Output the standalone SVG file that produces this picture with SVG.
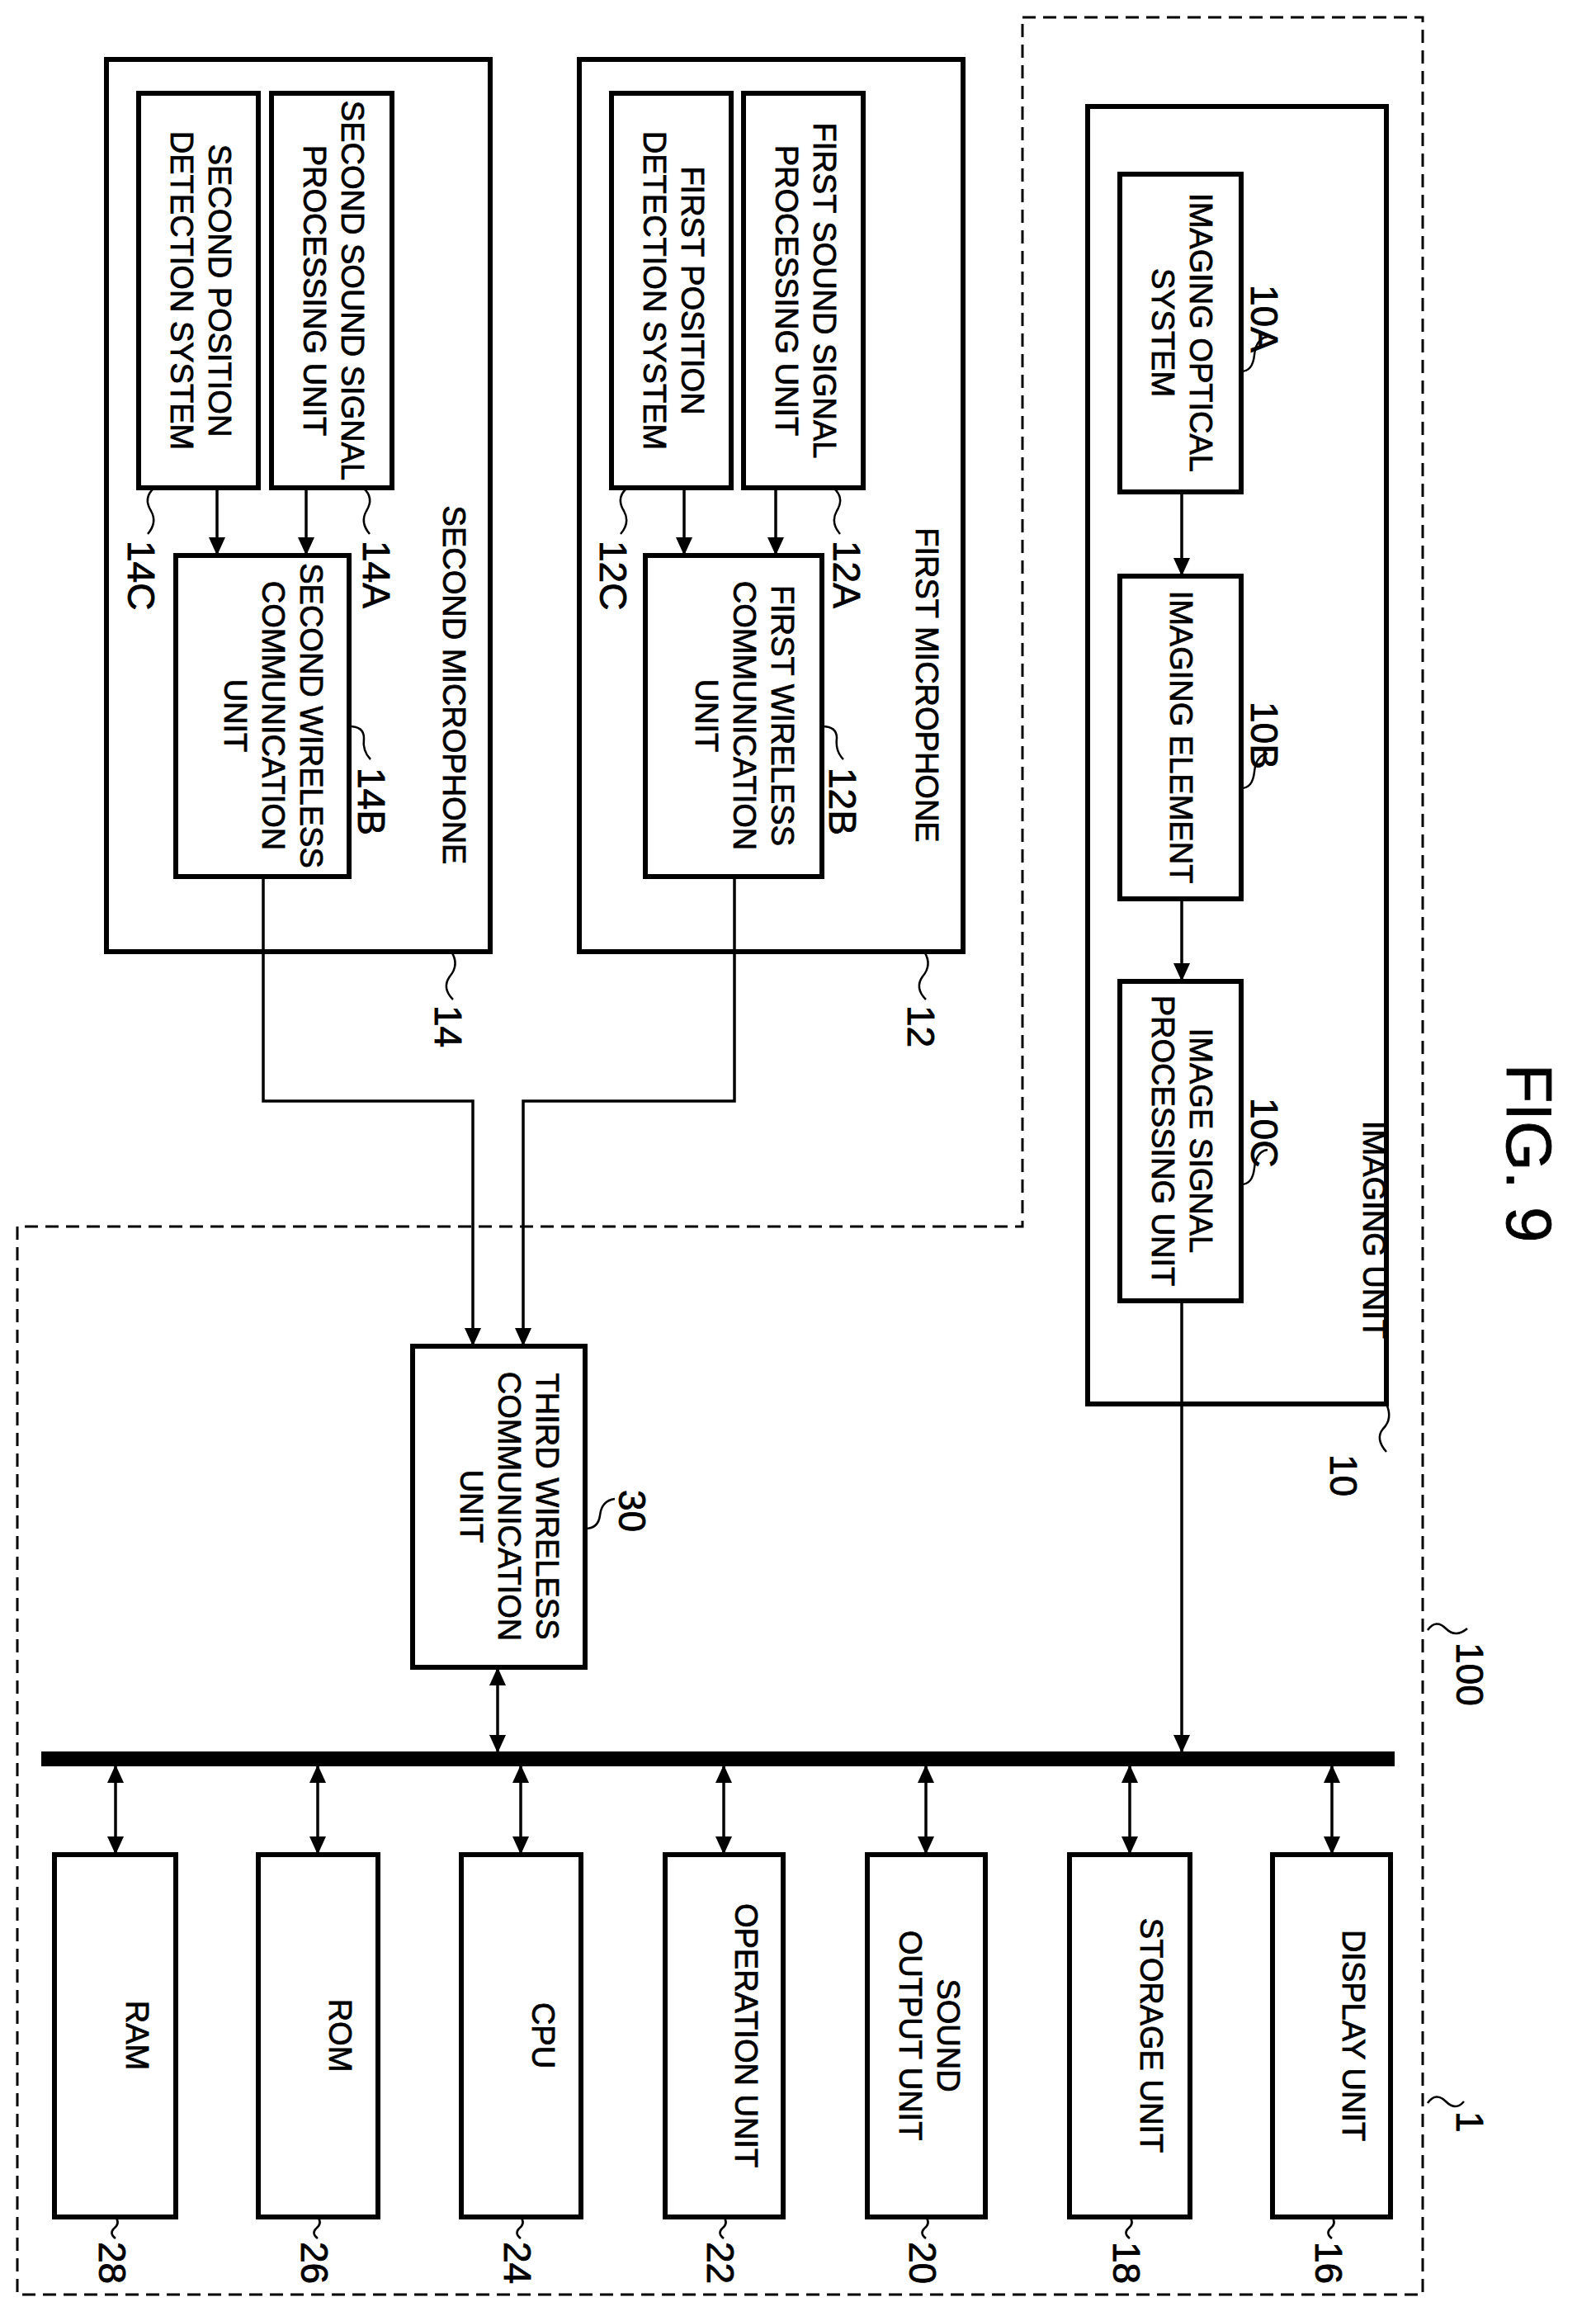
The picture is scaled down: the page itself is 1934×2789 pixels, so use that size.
<svg xmlns="http://www.w3.org/2000/svg" width="1934" height="2789" viewBox="0 0 1934 2789">
<style>
.b{fill:#fff;stroke:#000;stroke-width:6}
.l{fill:none;stroke:#000;stroke-width:3.5}
.s{fill:none;stroke:#000;stroke-width:2.5}
.d{fill:none;stroke:#000;stroke-width:3;stroke-dasharray:16 9}
text{font-family:"Liberation Sans",Arial,sans-serif;font-size:38px;fill:#000;text-anchor:middle;stroke:#000;stroke-width:0.8}
.n{font-size:46px;text-anchor:start}
</style>
<defs>
<marker id="a" markerWidth="22" markerHeight="20" refX="20" refY="10" orient="auto-start-reverse" markerUnits="userSpaceOnUse" viewBox="0 0 22 20"><path d="M0,0 L22,10 L0,20z"/></marker>
</defs>
<rect width="1934" height="2789" fill="#fff"/>
<path class="d" d="M1239,21 H1724 V2780 H21 V1486 H1239 Z"/>
<text transform="translate(1826,1397) rotate(90)" style="font-size:78px">FIG. 9</text>

<g id="imaging">
<rect class="b" x="1318" y="129" width="362" height="1572"/>
<text transform="translate(1652,1490) rotate(90)">IMAGING UNIT</text>
<path class="s" d="M1680,1701 q8,18 -4,30 q-10,12 4,28"/><text class="n" transform="translate(1612,1762) rotate(90)">10</text>
</g>
<g id="n10A"><rect class="b" x="1357" y="211" width="147" height="385"/>
<text transform="translate(1442,403) rotate(90)"><tspan x="0" y="0">IMAGING OPTICAL</tspan><tspan x="0" y="46">SYSTEM</tspan></text>
<path class="s" d="M1504,450 q14,0 16,-20 q2,-20 16,-22"/><text class="n" transform="translate(1516,345) rotate(90)">10A</text></g>
<g id="n10B"><rect class="b" x="698" y="0" width="0" height="0" style="display:none"/><rect class="b" x="1357" y="698" width="147" height="391"/>
<text transform="translate(1418,893) rotate(90)">IMAGING ELEMENT</text>
<path class="s" d="M1504,955 q14,0 16,-20 q2,-20 16,-22"/><text class="n" transform="translate(1516,850) rotate(90)">10B</text></g>
<g id="n10C"><rect class="b" x="1357" y="1189" width="147" height="387"/>
<text transform="translate(1442,1382) rotate(90)"><tspan x="0" y="0">IMAGE SIGNAL</tspan><tspan x="0" y="46">PROCESSING UNIT</tspan></text>
<path class="s" d="M1504,1435 q14,0 16,-20 q2,-20 16,-22"/><text class="n" transform="translate(1516,1330) rotate(90)">10C</text></g>

<g id="mic1"><rect class="b" x="702" y="72" width="465" height="1081"/>
<text transform="translate(1110,830) rotate(90)">FIRST MICROPHONE</text>
<path class="s" d="M1120,1153 q10,16 -2,30 q-10,14 4,28"/><text class="n" transform="translate(1100,1218) rotate(90)">12</text></g>
<g id="n12A"><rect class="b" x="901" y="113" width="145" height="478"/>
<text transform="translate(986,352) rotate(90)"><tspan x="0" y="0">FIRST SOUND SIGNAL</tspan><tspan x="0" y="46">PROCESSING UNIT</tspan></text>
<path class="s" d="M1010,591 q14,12 4,28 q-8,14 4,28"/><text class="n" transform="translate(1010,655) rotate(90)">12A</text></g>
<g id="n12C"><rect class="b" x="741" y="113" width="145" height="478"/>
<text transform="translate(826,352) rotate(90)"><tspan x="0" y="0">FIRST POSITION</tspan><tspan x="0" y="46">DETECTION SYSTEM</tspan></text>
<path class="s" d="M760,591 q-14,12 -4,28 q8,14 -4,28"/><text class="n" transform="translate(727,655) rotate(90)">12C</text></g>
<g id="n12B"><rect class="b" x="782" y="673" width="214" height="389"/>
<text transform="translate(935,867) rotate(90)"><tspan x="0" y="0">FIRST WIRELESS</tspan><tspan x="0" y="46">COMMUNICATION</tspan><tspan x="0" y="92">UNIT</tspan></text>
<path class="s" d="M996,880 q18,0 18,14 q-2,16 8,26"/><text class="n" transform="translate(1005,930) rotate(90)">12B</text></g>

<g id="mic2"><rect class="b" x="129" y="72" width="465" height="1081"/>
<text transform="translate(537,830) rotate(90)">SECOND MICROPHONE</text>
<path class="s" d="M547,1153 q10,16 -2,30 q-10,14 4,28"/><text class="n" transform="translate(527,1218) rotate(90)">14</text></g>
<g id="n14A"><rect class="b" x="329" y="113" width="146" height="478"/>
<text transform="translate(414,352) rotate(90)"><tspan x="0" y="0">SECOND SOUND SIGNAL</tspan><tspan x="0" y="46">PROCESSING UNIT</tspan></text>
<path class="s" d="M440,591 q14,12 4,28 q-8,14 4,28"/><text class="n" transform="translate(440,655) rotate(90)">14A</text></g>
<g id="n14C"><rect class="b" x="168" y="113" width="145" height="478"/>
<text transform="translate(253,352) rotate(90)"><tspan x="0" y="0">SECOND POSITION</tspan><tspan x="0" y="46">DETECTION SYSTEM</tspan></text>
<path class="s" d="M187,591 q-14,12 -4,28 q8,14 -4,28"/><text class="n" transform="translate(155,655) rotate(90)">14C</text></g>
<g id="n14B"><rect class="b" x="213" y="673" width="210" height="389"/>
<text transform="translate(364,867) rotate(90)"><tspan x="0" y="0">SECOND WIRELESS</tspan><tspan x="0" y="46">COMMUNICATION</tspan><tspan x="0" y="92">UNIT</tspan></text>
<path class="s" d="M423,880 q18,0 18,14 q-2,16 8,26"/><text class="n" transform="translate(434,930) rotate(90)">14B</text></g>

<g id="n30"><rect class="b" x="500" y="1631" width="209" height="389"/>
<text transform="translate(650,1825) rotate(90)"><tspan x="0" y="0">THIRD WIRELESS</tspan><tspan x="0" y="46">COMMUNICATION</tspan><tspan x="0" y="92">UNIT</tspan></text>
<path class="s" d="M709,1852 q16,0 18,-16 q2,-18 18,-20"/><text class="n" transform="translate(750,1805) rotate(90)">30</text></g>

<g id="n16"><rect class="b" x="1542" y="2247" width="143" height="439"/><text transform="translate(1627,2466) rotate(90)">DISPLAY UNIT</text>
<path class="s" d="M1614,2686 q6,8 -2,14 q-6,6 2,12"/><text class="n" transform="translate(1594,2716) rotate(90)">16</text></g>
<g id="n18"><rect class="b" x="1296" y="2247" width="146" height="439"/><text transform="translate(1382,2466) rotate(90)">STORAGE UNIT</text>
<path class="s" d="M1369,2686 q6,8 -2,14 q-6,6 2,12"/><text class="n" transform="translate(1349,2716) rotate(90)">18</text></g>
<g id="n20"><rect class="b" x="1051" y="2247" width="143" height="439"/><text transform="translate(1136,2466) rotate(90)"><tspan x="0" y="0">SOUND</tspan><tspan x="0" y="46">OUTPUT UNIT</tspan></text>
<path class="s" d="M1122,2686 q6,8 -2,14 q-6,6 2,12"/><text class="n" transform="translate(1102,2716) rotate(90)">20</text></g>
<g id="n22"><rect class="b" x="806" y="2247" width="143" height="439"/><text transform="translate(891,2466) rotate(90)">OPERATION UNIT</text>
<path class="s" d="M877,2686 q6,8 -2,14 q-6,6 2,12"/><text class="n" transform="translate(857,2716) rotate(90)">22</text></g>
<g id="n24"><rect class="b" x="559" y="2247" width="145" height="439"/><text transform="translate(645,2466) rotate(90)">CPU</text>
<path class="s" d="M631,2686 q6,8 -2,14 q-6,6 2,12"/><text class="n" transform="translate(611,2716) rotate(90)">24</text></g>
<g id="n26"><rect class="b" x="313" y="2247" width="145" height="439"/><text transform="translate(399,2466) rotate(90)">ROM</text>
<path class="s" d="M385,2686 q6,8 -2,14 q-6,6 2,12"/><text class="n" transform="translate(365,2716) rotate(90)">26</text></g>
<g id="n28"><rect class="b" x="66" y="2247" width="147" height="439"/><text transform="translate(153,2466) rotate(90)">RAM</text>
<path class="s" d="M140,2686 q6,8 -2,14 q-6,6 2,12"/><text class="n" transform="translate(120,2716) rotate(90)">28</text></g>

<g id="n100"><path class="s" d="M1730,1975 q10,-14 22,-2 q12,12 26,0"/><text class="n" transform="translate(1765,1990) rotate(90)">100</text></g>
<g id="n1"><path class="s" d="M1730,2548 q10,-14 22,-2 q12,12 22,0"/><text class="n" transform="translate(1765,2558) rotate(90)">1</text></g>

<g id="connectors">
<line x1="50" y1="2131" x2="1690" y2="2131" stroke="#000" stroke-width="18"/>
<line class="l" x1="1432" y1="596" x2="1432" y2="696" marker-end="url(#a)"/>
<line class="l" x1="1432" y1="1089" x2="1432" y2="1187" marker-end="url(#a)"/>
<line class="l" x1="1432" y1="1576" x2="1432" y2="2122" marker-end="url(#a)"/>
<line class="l" x1="940" y1="591" x2="940" y2="671" marker-end="url(#a)"/>
<line class="l" x1="829" y1="591" x2="829" y2="671" marker-end="url(#a)"/>
<line class="l" x1="371" y1="591" x2="371" y2="671" marker-end="url(#a)"/>
<line class="l" x1="263" y1="591" x2="263" y2="671" marker-end="url(#a)"/>
<path class="l" d="M319,1062 V1334 H573 V1629" marker-end="url(#a)"/>
<path class="l" d="M890,1062 V1334 H634 V1629" marker-end="url(#a)"/>
<line class="l" x1="603" y1="2022" x2="603" y2="2122" marker-start="url(#a)" marker-end="url(#a)"/>
<line class="l" x1="140" y1="2140" x2="140" y2="2245" marker-start="url(#a)" marker-end="url(#a)"/>
<line class="l" x1="385" y1="2140" x2="385" y2="2245" marker-start="url(#a)" marker-end="url(#a)"/>
<line class="l" x1="631" y1="2140" x2="631" y2="2245" marker-start="url(#a)" marker-end="url(#a)"/>
<line class="l" x1="877" y1="2140" x2="877" y2="2245" marker-start="url(#a)" marker-end="url(#a)"/>
<line class="l" x1="1122" y1="2140" x2="1122" y2="2245" marker-start="url(#a)" marker-end="url(#a)"/>
<line class="l" x1="1369" y1="2140" x2="1369" y2="2245" marker-start="url(#a)" marker-end="url(#a)"/>
<line class="l" x1="1614" y1="2140" x2="1614" y2="2245" marker-start="url(#a)" marker-end="url(#a)"/>
</g>
</svg>
